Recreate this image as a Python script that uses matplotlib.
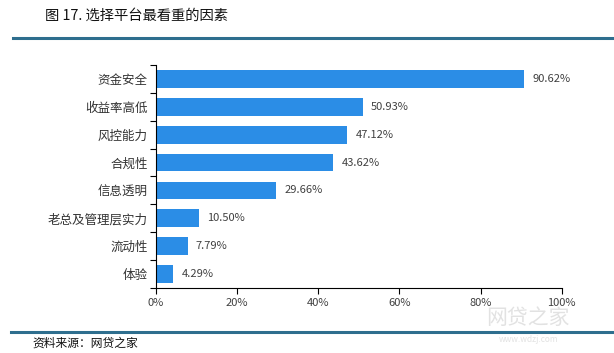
import matplotlib
matplotlib.use('Agg')
import matplotlib.pyplot as plt

plt.rcParams['font.family'] = ['Noto Sans CJK SC', 'DejaVu Sans']

factors = ['资金安全', '收益率高低', '风控能力', '合规性', '信息透明', '老总及管理层实力', '流动性', '体验']
values = [90.62, 50.93, 47.12, 43.62, 29.66, 10.50, 7.79, 4.29]
xticks = [0, 20, 40, 60, 80, 100]

fig = plt.figure(figsize=(6.14, 3.53), dpi=100)
ax = fig.add_axes([0.254, 0.184, 0.661, 0.632])

pos = list(range(len(factors)))
ax.barh(pos, values, height=0.64, color='#2B8DE6')
for p, v in zip(pos, values):
    ax.annotate('%.2f%%' % v, (v, p), xytext=(6, 0), textcoords='offset points',
                va='center', ha='left', fontsize=8, color='#404040')

ax.set_ylim(len(factors) - 0.5, -0.5)
ax.set_xlim(0, 100)
ax.set_yticks(pos)
ax.set_yticklabels(factors, fontsize=9, color='#333333')
ax.set_yticks([i - 0.5 for i in range(len(factors) + 1)], minor=True)
ax.tick_params(axis='y', which='major', length=0, pad=6)
ax.tick_params(axis='y', which='minor', length=4, width=0.8)
ax.set_xticks(xticks)
ax.set_xticklabels(['%d%%' % x for x in xticks], fontsize=8, color='#404040')
ax.tick_params(axis='x', length=4, width=0.8)
for s in ['top', 'right']:
    ax.spines[s].set_visible(False)
for s in ['left', 'bottom']:
    ax.spines[s].set_linewidth(0.8)

# header / footer
fig.text(45 / 614, 1 - 16 / 353, '图 17. 选择平台最看重的因素', fontsize=10.3, va='center', ha='left', color='#111111')
fig.add_artist(plt.Line2D([13 / 614, 1], [1 - 38 / 353] * 2, color='#2E6E8E', lw=2.2))
fig.add_artist(plt.Line2D([11 / 614, 1], [1 - 332 / 353] * 2, color='#2E6E8E', lw=2.2))
fig.text(32 / 614, 1 - 343 / 353, '资料来源：网贷之家', fontsize=8.5, va='center', ha='left', color='#111111')

# watermark
fig.text(0.86, 1 - 318 / 353, '网贷之家', fontsize=15, color='#E2E2E2', ha='center', va='center')
fig.text(0.86, 1 - 339 / 353, 'www.wdzj.com', fontsize=6, color='#E2E2E2', ha='center', va='center')

fig.savefig('out.png', dpi=100)
